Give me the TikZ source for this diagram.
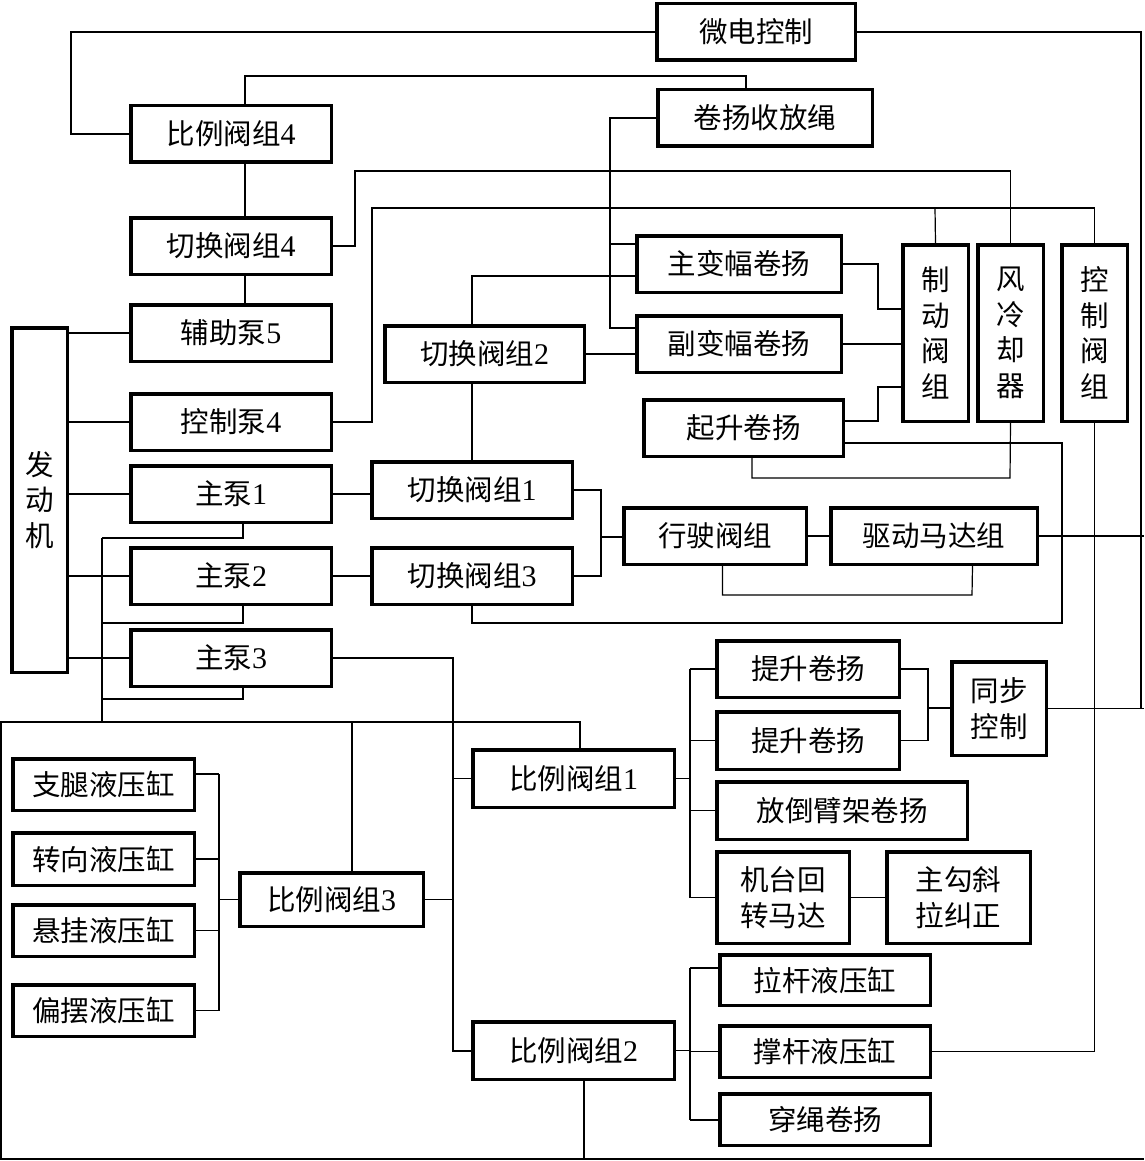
\documentclass[tikz,border=0pt]{standalone}
\usepackage{fontspec}
\setmainfont{Liberation Serif}
\newfontfamily\cjk{Noto Sans CJK SC}
\tikzset{
  box/.style={draw, line width=3.5pt, inner sep=0pt, align=center,
    font=\cjk\fontsize{28.5}{36}\selectfont},
  vbox/.style={box, font=\cjk\fontsize{28.5}{35.5}\selectfont},
  wire/.style={line width=1.2pt}
}
\newcommand\bx[7][box]{\node[#1, minimum width={#5-#3-3.5}, minimum height={#6-#4-3.5}] (#2) at ({(#3+#5)/2},{(#4+#6)/2}) {#7};}
\newcommand\dg[1]{{\rmfamily\fontsize{30}{36}\selectfont #1}}
\begin{document}
\begin{tikzpicture}[x=1pt,y=-1pt]
\useasboundingbox (0,0) rectangle (1144,1161);
\fill[white] (0,0) rectangle (1144,1161);
% boxes
\bx{wdk}{655}{2}{857}{62}{微电控制}
\bx{bl4}{129}{104}{333}{164}{比例阀组\dg{4}}
\bx{jys}{656}{88}{874}{148}{卷扬收放绳}
\bx{qh4}{129}{216}{333}{276}{切换阀组\dg{4}}
\bx{fz5}{129}{303}{333}{363}{辅助泵\dg{5}}
\bx[vbox]{fdj}{10}{326}{69}{674}{发\\动\\机}
\bx{kb4}{129}{392}{333}{452}{控制泵\dg{4}}
\bx{zb1}{129}{464}{333}{524}{主泵\dg{1}}
\bx{zb2}{129}{546}{333}{606}{主泵\dg{2}}
\bx{zb3}{129}{628}{333}{688}{主泵\dg{3}}
\bx{qh2}{383}{324}{586}{384}{切换阀组\dg{2}}
\bx{qh1}{370}{460}{574}{520}{切换阀组\dg{1}}
\bx{qh3}{370}{546}{574}{606}{切换阀组\dg{3}}
\bx{zbf}{635}{234}{843}{294}{主变幅卷扬}
\bx{fbf}{635}{314}{843}{374}{副变幅卷扬}
\bx{qs}{642}{398}{845}{458}{起升卷扬}
\bx[vbox]{zd}{901}{243}{970}{423}{制\\动\\阀\\组}
\bx[vbox]{fl}{976}{243}{1045}{423}{风\\冷\\却\\器}
\bx[vbox]{kz}{1060}{243}{1129}{423}{控\\制\\阀\\组}
\bx{xs}{622}{506}{808}{566}{行驶阀组}
\bx{qd}{829}{506}{1039}{566}{驱动马达组}
\bx{ts1}{715}{639}{901}{699}{提升卷扬}
\bx{ts2}{715}{710}{901}{771}{提升卷扬}
\bx{tb}{950}{660}{1048}{757}{同步\\控制}
\bx{fd}{715}{780}{969}{841}{放倒臂架卷扬}
\bx{jt}{715}{850}{851}{945}{机台回\\转马达}
\bx{zg}{885}{850}{1032}{945}{主勾斜\\拉纠正}
\bx{bl1}{471}{748}{676}{809}{比例阀组\dg{1}}
\bx{bl3}{238}{871}{425}{928}{比例阀组\dg{3}}
\bx{bl2}{471}{1020}{676}{1081}{比例阀组\dg{2}}
\bx{zt}{11}{757}{196}{812}{支腿液压缸}
\bx{zx}{11}{831}{196}{887}{转向液压缸}
\bx{xg}{11}{903}{196}{958}{悬挂液压缸}
\bx{pb}{11}{983}{196}{1038}{偏摆液压缸}
\bx{lg}{718}{953}{932}{1007}{拉杆液压缸}
\bx{cg}{718}{1024}{932}{1079}{撑杆液压缸}
\bx{cs}{718}{1092}{932}{1147}{穿绳卷扬}
% coordinates
\coordinate (edge) at (1144,0);
\coordinate (rt) at (1141,708.5);
\coordinate (p1) at (610,328);
\coordinate (p2) at (610,244);
\coordinate (p3) at (472,276);
\coordinate (p4) at (878,309);
\coordinate (p5) at (1010,478);
\coordinate (p6) at (935,208);
\coordinate (p7) at (453,1051);
\coordinate (b1) at (102,538);
\coordinate (b2) at (102,623);
\coordinate (b3) at (102,699);
\coordinate (b4) at (102,722);
\coordinate (q1) at (219,774);
\coordinate (r1) at (690,669);
\coordinate (s1) at (690,968);
\coordinate (s2) at (690,1120);
\coordinate (m1) at (601,537);
\coordinate (t1) at (928,708);
\begin{scope}[wire]
% top
\draw (wdk.west) -| (71,134) -- (bl4.west);
\draw (wdk.east) -| (rt);
\draw (tb.east) -- (tb.east -| edge);
\draw (qd.east) -- (qd.east -| edge);
\draw ([xshift=14pt]bl4.north) |- (746,76) -- ([xshift=-19pt]jys.north);
\draw ([xshift=14pt]bl4.south) -- ([xshift=14pt]qh4.north);
\draw ([xshift=14pt]qh4.south) -- ([xshift=14pt]fz5.north);
\draw (jys.west) -| (p1) -- (fbf.west |- p1);
\draw (p2) -- (zbf.west |- p2);
\draw ([xshift=-12.5pt]qh2.north) |- (zbf.west |- p3);
\draw (qh2.east) -- (fbf.west |- qh2.east);
\draw ([xshift=-12.5pt]qh2.south) -- (qh1.north);
\draw (zbf.east) -| (p4) -- (zd.west |- p4);
\draw (fbf.east) -- (zd.west |- fbf.east);
\draw ([yshift=7pt]qs.east) -| (878,387) -- (zd.west |- 878,387);
\draw ([yshift=-15pt]qs.east) -| (1062,623) -| (qh3.south);
\draw ([xshift=8.5pt]qs.south) |- (p5) -- (fl.south);
\draw (qh4.east) -| (355,171) -| (fl.north);
\draw (kb4.east) -| (372,208) -| (kz.north);
\draw (p6) -- (zd.north);
% engine
\foreach \n in {fz5,kb4,zb1,zb2,zb3} \draw (fdj.east |- \n.west) -- (\n.west);
\draw (zb1.east) -- (qh1.west |- zb1.east);
\draw (zb2.east) -- (qh3.west |- zb2.east);
\draw ([xshift=12pt]zb1.south) |- (b1);
\draw ([xshift=12pt]zb2.south) |- (b2);
\draw ([xshift=12pt]zb3.south) |- (b3);
\draw (b1) -- (b4);
% travel
\draw (qh1.east) -| (m1) |- (qh3.east);
\draw (m1) -- (xs.west |- m1);
\draw (xs.east) -- (qd.west);
\draw ([xshift=7.5pt]xs.south) |- (972,595) -- ([xshift=38.5pt]qd.south);
% lower frame
\draw ([xshift=6.5pt]bl1.north) |- (1,722) -- (1,1159) -- (1144,1159);
\draw ([xshift=20.5pt]bl3.north) -- (352,722);
\draw (zb3.east) -| (p7) -- (bl2.west |- p7);
\draw (p7 |- bl1.west) -- (bl1.west);
\draw (bl3.east) -- (p7 |- bl3.east);
\draw ([xshift=10.5pt]bl2.south) -- (584,1159);
% cylinders left
\draw (q1) -- (q1 |- pb.east);
\draw (bl3.west) -- (q1 |- bl3.west);
\draw (zt.east |- q1) -- (q1);
\draw (zx.east) -- (q1 |- zx.east);
\draw (xg.east) -- (q1 |- xg.east);
\draw (pb.east) -- (q1 |- pb.east);
% right group 1
\draw (bl1.east) -- (r1 |- bl1.east);
\draw (r1) -- (r1 |- jt.west);
\draw (r1) -- (ts1.west);
\draw (r1 |- ts2.west) -- (ts2.west);
\draw (r1 |- fd.west) -- (fd.west);
\draw (r1 |- jt.west) -- (jt.west);
\draw (ts1.east) -| (t1) |- (ts2.east);
\draw (t1) -- (tb.west |- t1);
\draw (jt.east) -- (zg.west |- jt.east);
% right group 2
\draw (bl2.east) -- (s1 |- bl2.east);
\draw (s1) -- (s2);
\draw (s1) -- (s1 -| lg.west);
\draw (s1 |- cg.west) -- (cg.west);
\draw (s2) -- (s2 -| cs.west);
\draw (cg.east) -| (kz.south);
\end{scope}
\end{tikzpicture}
\end{document}
